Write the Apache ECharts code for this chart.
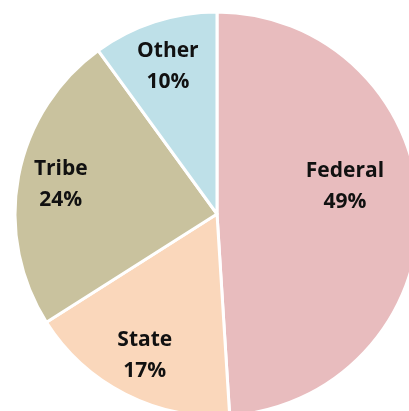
<!DOCTYPE html>
<html><head><meta charset="utf-8">
<script src="https://cdn.jsdelivr.net/npm/echarts@6/dist/echarts.min.js"></script>
<style>html,body{margin:0;padding:0;background:#fff}#c{width:409px;height:411px}</style>
</head><body><div id="c"></div>
<script>
const categories = ['Federal', 'State', 'Tribe', 'Other'];
const shares = [49, 17, 24, 10];
const colors = ['#E8BCBE', '#FAD7BB', '#C9C29E', '#BEE0E8'];

const chart = echarts.init(document.getElementById('c'), null, {renderer: 'canvas'});
const center = [217, 214];
const sliceData = categories.map((c, i) => ({ name: c, value: shares[i], itemStyle: { color: colors[i] } }));
const labelData = categories.map((c, i) => {
  const item = { name: c, value: shares[i] };
  if (i === 0) item.label = { offset: [-31, -22] };
  if (i === 3) item.label = { offset: [0, 4] };
  return item;
});
chart.setOption({
  animation: false,
  series: [
    {
      type: 'pie', center: center, radius: 202, startAngle: 90, clockwise: true,
      silent: true,
      itemStyle: { borderColor: '#ffffff', borderWidth: 3 },
      label: { show: false }, labelLine: { show: false },
      data: sliceData
    },
    {
      type: 'pie', center: center, radius: [144, 168], startAngle: 90, clockwise: true,
      silent: true,
      itemStyle: { color: 'rgba(0,0,0,0)', borderWidth: 0 },
      label: {
        show: true, position: 'inside',
        formatter: p => p.name + '\n' + p.value + '%',
        fontFamily: 'Open Sans', fontWeight: 'bold', fontSize: 21, lineHeight: 31,
        color: '#111111', align: 'center'
      },
      labelLine: { show: false },
      data: labelData
    }
  ]
});
</script></body></html>
